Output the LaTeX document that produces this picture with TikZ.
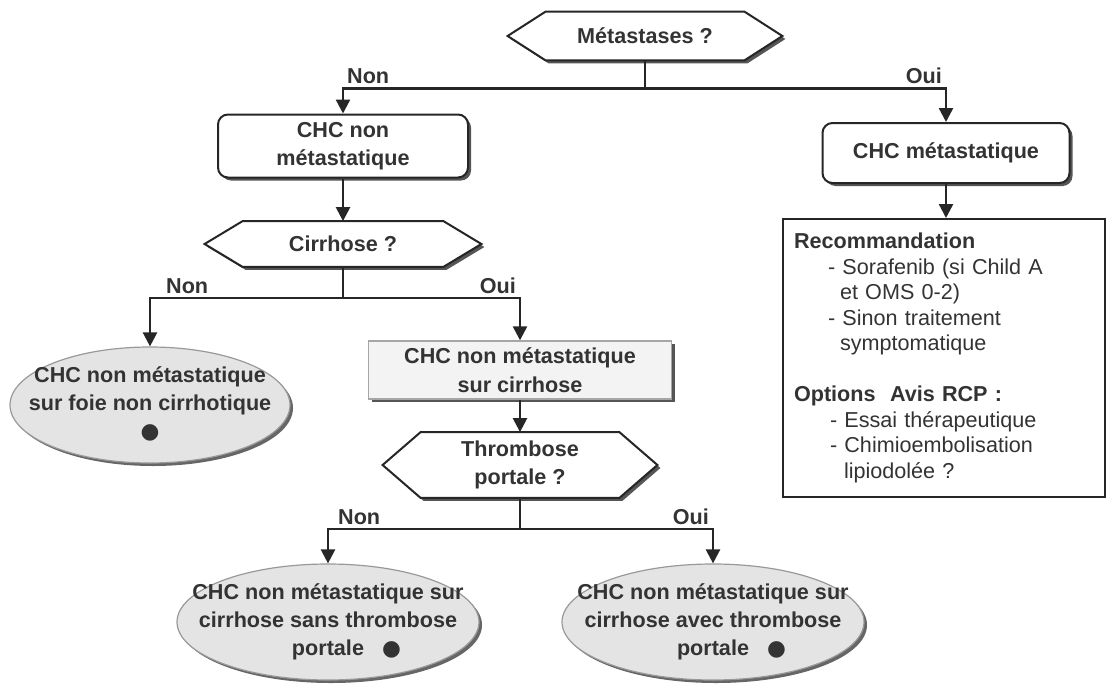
\documentclass[tikz,border=0pt]{standalone}
\usepackage{fontspec}
\setmainfont{Liberation Sans}
\newfontfamily\dotfont{DejaVu Sans}
\usepackage{tikz}
\usetikzlibrary{shapes.geometric,shadows,arrows.meta,calc,backgrounds}

\definecolor{txtgray}{HTML}{333333}
\definecolor{shadegray}{HTML}{555555}
\definecolor{ovalfill}{HTML}{E4E4E4}
\definecolor{boxfill}{HTML}{F3F3F3}

\tikzstyle{flowtext}=[font=\bfseries\fontsize{10.8}{14.2}\selectfont, text=txtgray, align=center]
\tikzstyle{line}=[draw=black!85, line width=1.2pt]
\tikzstyle{arr}=[line, -{Triangle[length=7pt,width=7pt]}]
\tikzstyle{question}=[flowtext, inner sep=0pt]
\tikzstyle{hexline}=[draw=black!85, line width=1pt, fill=white]
\tikzstyle{roundbox}=[flowtext, draw=black!85, line width=1pt, fill=white, rounded corners=5pt, drop shadow={shadow xshift=1.5pt, shadow yshift=-1.5pt, fill=shadegray, opacity=1}]
\tikzstyle{greybox}=[flowtext, draw=black!35, line width=0.8pt, fill=boxfill, drop shadow={shadow xshift=1.5pt, shadow yshift=-1.5pt, fill=shadegray, opacity=1}]
\tikzstyle{oval}=[flowtext, ellipse, draw=black!40, line width=0.6pt, fill=ovalfill, inner sep=0pt, drop shadow={shadow xshift=1.5pt, shadow yshift=-1.5pt, fill=shadegray, opacity=0.9}]
\tikzstyle{answer}=[font=\bfseries\fontsize{10.8}{12}\selectfont, text=txtgray, inner sep=1.5pt]
\tikzstyle{recobox}=[draw=black!85, line width=1pt, font=\fontsize{10.8}{12.75}\selectfont, text=txtgray, align=left, anchor=north west, inner xsep=5.5pt, inner ysep=7pt, text width=150pt]

% text set in a box of no size, so the oval keeps its own size
\newcommand{\ovaltext}[1]{\raisebox{-2.6pt}[0pt][0pt]{\makebox[0pt]{\begin{tabular}{@{}c@{}}#1\end{tabular}}}}
\newcommand{\bigdot}{{\dotfont ●}}
% six-sided frame round a question node
\newcommand{\hexframe}[1]{%
  \begin{pgfonlayer}{background}
    \fill[shadegray] ($(#1.north west)+(1.5pt,-1.5pt)$) -- ($(#1.north east)+(1.5pt,-1.5pt)$) -- ($(#1.east)+(38,0)+(1.5pt,-1.5pt)$) -- ($(#1.south east)+(1.5pt,-1.5pt)$) -- ($(#1.south west)+(1.5pt,-1.5pt)$) -- ($(#1.west)+(-38,0)+(1.5pt,-1.5pt)$) -- cycle;
    \draw[hexline] (#1.north west) -- (#1.north east) -- ($(#1.east)+(38,0)$) -- (#1.south east) -- (#1.south west) -- ($(#1.west)+(-38,0)$) -- cycle;
  \end{pgfonlayer}}

\begin{document}
\begin{tikzpicture}[x=0.5pt,y=-0.5pt]
\useasboundingbox (0,0) rectangle (1108,686);
% questions
\node[question, minimum width=99pt, minimum height=24pt] (metas) at (645,36) {Métastases ?};
\node[question, minimum width=100pt, minimum height=22.5pt] (cirr) at (343,244) {Cirrhose ?};
\node[question, minimum width=99pt, minimum height=32.5pt] (thromb) at (520,465) {Thrombose\\portale ?};
\hexframe{metas}
\hexframe{cirr}
\hexframe{thromb}
% boxes
\node[roundbox, minimum width=125pt, minimum height=31.5pt] (nonmeta) at (343,146) {CHC non\\métastatique};
\node[roundbox, minimum width=123.5pt, minimum height=30pt] (meta) at (946,153) {CHC métastatique};
\node[greybox, minimum width=151.5pt, minimum height=28pt] (surcirr) at (520,370) {CHC non métastatique\\sur cirrhose};
\node[recobox] (reco) at (782,218) {\textbf{Recommandation}\\
\hspace*{17pt}- Sorafenib (si Child A\\
\hspace*{23pt}et OMS 0-2)\\
\hspace*{17pt}- Sinon traitement\\
\hspace*{23pt}symptomatique\\[12.75pt]
\textbf{Options\ \ Avis RCP :}\\
\hspace*{18pt}- Essai thérapeutique\\
\hspace*{18pt}- Chimioembolisation\\
\hspace*{25pt}lipiodolée ?};
% outcomes
\node[oval, minimum width=140pt, minimum height=58pt] (foie) at (150,405) {\ovaltext{CHC non métastatique\\sur foie non cirrhotique\\\bigdot}};
\node[oval, minimum width=151pt, minimum height=58pt] (sansT) at (328,622) {\ovaltext{CHC non métastatique sur\\cirrhose sans thrombose\\portale\makebox[0pt][l]{\hspace{9pt}\bigdot}}};
\node[oval, minimum width=151pt, minimum height=58pt] (avecT) at (713,622) {\ovaltext{CHC non métastatique sur\\cirrhose avec thrombose\\portale\makebox[0pt][l]{\hspace{9pt}\bigdot}}};
% connectors
\draw[line] (metas.south) -- +(0,28) coordinate (m1);
\draw[arr] (m1) -| node[answer, pos=0.5, above right] (nonM) {Non} (nonmeta.north);
\draw[arr] (m1) -| node[answer, pos=0.5, above left] (ouiM) {Oui} (meta.north);
\draw[arr] (nonmeta.south) -- (cirr.north);
\draw[arr] (meta.south) -- (meta.south |- reco.north);
\draw[line] (cirr.south) -- +(0,31) coordinate (c1);
\draw[arr] (c1) -| node[answer, pos=0.5, above right, xshift=6pt] (nonC) {Non} (foie.north);
\draw[arr] (c1) -| node[answer, pos=0.5, above left] (ouiC) {Oui} (surcirr.north);
\draw[arr] (surcirr.south) -- (thromb.north);
\draw[line] (thromb.south) -- +(0,31) coordinate (t1);
\draw[arr] (t1) -| node[answer, pos=0.5, above right, xshift=3pt] (nonT) {Non} (sansT.north);
\draw[arr] (t1) -| node[answer, pos=0.5, above left] (ouiT) {Oui} (avecT.north);
\end{tikzpicture}
\end{document}
